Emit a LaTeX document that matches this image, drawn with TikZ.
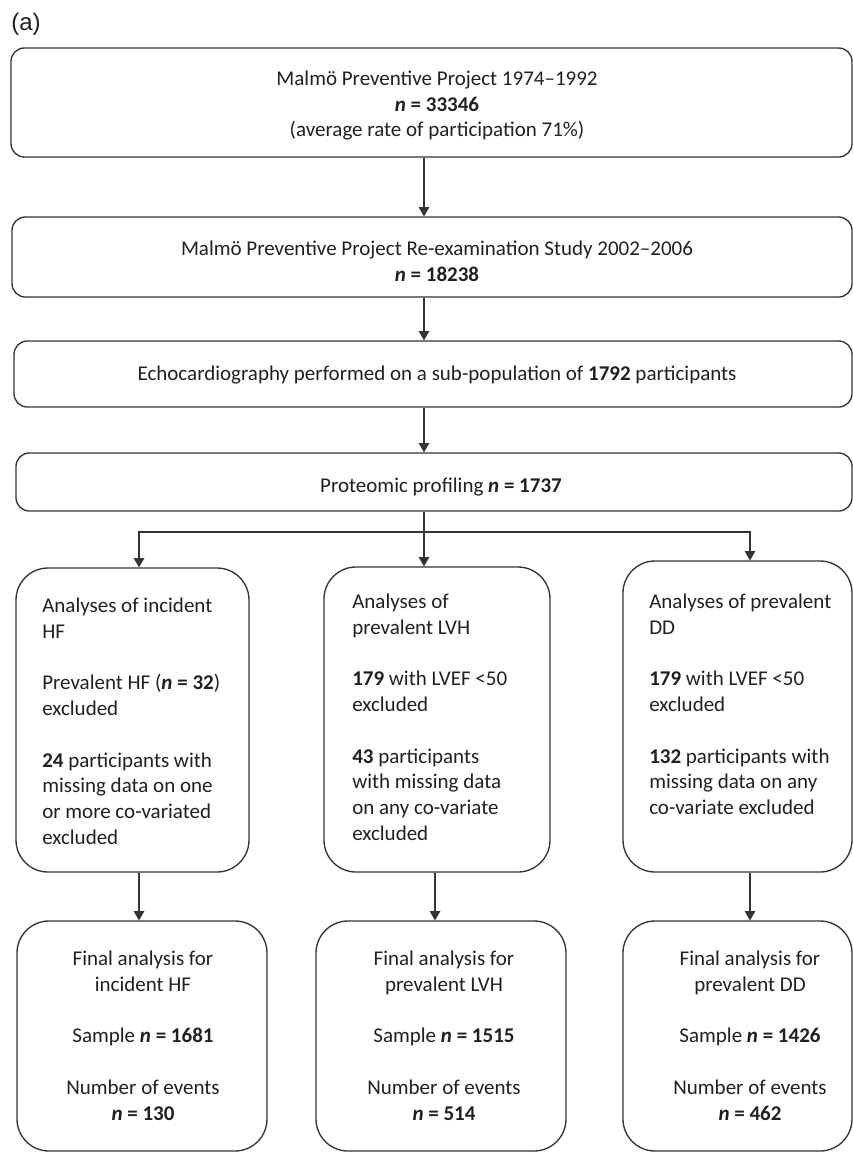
\documentclass[tikz,border=0pt]{standalone}
\usepackage{fontspec}
\setmainfont{Carlito}
\newfontfamily\labelfont{Liberation Sans}
\usetikzlibrary{arrows.meta,fit}
\definecolor{ink}{HTML}{231F20}
\definecolor{edge}{HTML}{333333}
\newcommand\mystrut{\rule{0pt}{13pt}}
\begin{document}
\begin{tikzpicture}[x=0.75pt,y=-0.75pt,
  box/.style={draw=edge, line width=1pt, inner sep=0pt},
  topbox/.style={box, rounded corners=10pt},
  bigbox/.style={box, rounded corners=24pt},
  txt/.style={inner sep=0pt, text=ink, font=\fontsize{15.75}{19.35}\selectfont},
  arr/.style={draw=edge, line width=0.8pt, -{Triangle[width=8pt,length=7pt]}},
  ln/.style={draw=edge, line width=0.8pt}]
\useasboundingbox (0,0) rectangle (853,1153);

\node[text=ink, inner sep=0pt, font=\labelfont\fontsize{18}{20}\selectfont] (lab) at (26,24) {(a)};

% boxes
\node[topbox, fit={(11,48) (852,157)}] (b1) {};
\node[topbox, fit={(12,217) (852,297)}] (b2) {};
\node[topbox, fit={(14,341) (852,407)}] (b3) {};
\node[topbox, fit={(16,453) (852,511)}] (b4) {};
\node[bigbox, fit={(16,568) (249,872)}] (m1) {};
\node[bigbox, fit={(324,567) (550,872)}] (m2) {};
\node[bigbox, fit={(623,561) (852,872)}] (m3) {};
\node[bigbox, fit={(17,921) (267,1151)}] (f1) {};
\node[bigbox, fit={(316,921) (566,1151)}] (f2) {};
\node[bigbox, fit={(623,921) (852,1151)}] (f3) {};

% texts
\node[txt, anchor=north, align=center] (t1) at (437,67.67)
  {\mystrut Malmö Preventive Project 1974–1992\\ \textbf{\textit{n} = 33346}\\ (average rate of participation 71\%)};
\node[txt, anchor=north, align=center] (t2) at (437,237.67)
  {\mystrut Malmö Preventive Project Re-examination Study 2002–2006\\ \textbf{\textit{n} = 18238}};
\node[txt, anchor=north, align=center] (t3) at (437,362.67)
  {\mystrut Echocardiography performed on a sub-population of \textbf{1792} participants};
\node[txt, anchor=north, align=center] (t4) at (441,474.67)
  {\mystrut Proteomic profiling \textbf{\textit{n} = 1737}};

\node[txt, anchor=north west, align=left] (tm1) at (42,594.67)
  {\mystrut Analyses of incident\\ HF\\[19.35pt] Prevalent HF (\textbf{\textit{n} = 32})\\ excluded\\[19.35pt] \textbf{24} participants with\\ missing data on one\\ or more co-variated\\ excluded};
\node[txt, anchor=north west, align=left] (tm2) at (352,590.67)
  {\mystrut Analyses of\\ prevalent LVH\\[19.35pt] \textbf{179} with LVEF <50\\ excluded\\[19.35pt] \textbf{43} participants\\ with missing data\\ on any co-variate\\ excluded};
\node[txt, anchor=north west, align=left] (tm3) at (649,590.67)
  {\mystrut Analyses of prevalent\\ DD\\[19.35pt] \textbf{179} with LVEF <50\\ excluded\\[19.35pt] \textbf{132} participants with\\ missing data on any\\ co-variate excluded};

\node[txt, anchor=north, align=center] (tf1) at (143,947.67)
  {\mystrut Final analysis for\\ incident HF\\[19.35pt] Sample \textbf{\textit{n} = 1681}\\[19.35pt] Number of events\\ \textbf{\textit{n} = 130}};
\node[txt, anchor=north, align=center] (tf2) at (444,947.67)
  {\mystrut Final analysis for\\ prevalent LVH\\[19.35pt] Sample \textbf{\textit{n} = 1515}\\[19.35pt] Number of events\\ \textbf{\textit{n} = 514}};
\node[txt, anchor=north, align=center] (tf3) at (750,947.67)
  {\mystrut Final analysis for\\ prevalent DD\\[19.35pt] Sample \textbf{\textit{n} = 1426}\\[19.35pt] Number of events\\ \textbf{\textit{n} = 462}};

% connectors
\coordinate (cx) at (424,0);
\coordinate (lx) at (139,0);
\coordinate (mx) at (435,0);
\coordinate (rx) at (750,0);
\coordinate (split) at (424,532);
\draw[arr] (b1.south -| cx) -- (b2.north -| cx);
\draw[arr] (b2.south -| cx) -- (b3.north -| cx);
\draw[arr] (b3.south -| cx) -- (b4.north -| cx);
\draw[ln] (b4.south -| cx) -- (split);
\draw[arr] (split) -| (m1.north -| lx);
\draw[arr] (split) -- (m2.north -| cx);
\draw[arr] (split) -| (m3.north -| rx);
\draw[arr] (m1.south -| lx) -- (f1.north -| lx);
\draw[arr] (m2.south -| mx) -- (f2.north -| mx);
\draw[arr] (m3.south -| rx) -- (f3.north -| rx);
\end{tikzpicture}
\end{document}
